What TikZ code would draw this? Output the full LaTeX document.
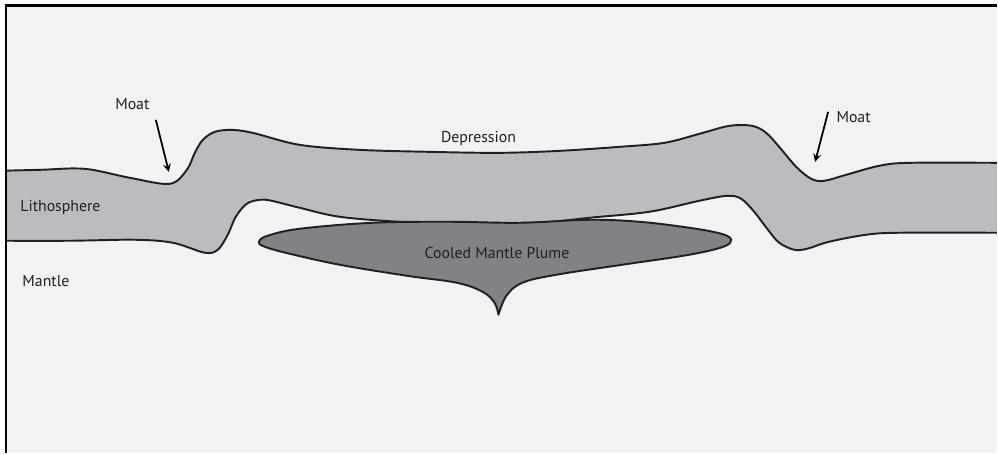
\documentclass[tikz,border=0pt]{standalone}
\usepackage{fontspec}
\setmainfont{PT Sans}
\usepackage{tikz}
\usetikzlibrary{calc}
\tikzset{>=stealth}

\definecolor{mantlegray}{HTML}{F1F2F4}
\definecolor{lithogray}{HTML}{BBBCBF}
\definecolor{plumegray}{HTML}{808285}
\definecolor{inkgray}{HTML}{231F20}

\tikzset{
  boundary/.style={draw=inkgray,line width=1.1pt,line join=round},
  lbl/.style={text=inkgray,font=\fontsize{9}{11}\selectfont,inner sep=0pt,anchor=base},
  moatarrow/.style={->,draw=black,line width=1pt}
}

\begin{document}
\begin{tikzpicture}[x=0.02cm,y=-0.02cm]
      \fill[white] (0,0) rectangle (998,453);
      \begin{scope}
      \clip (6,5) rectangle (998,453);
      \fill[mantlegray] (6,5) rectangle (998,453);
      % upper surface of the plate
      \filldraw[boundary,fill=lithogray] plot[smooth,tension=0.55] coordinates {
        (0,171) (40,170) (85,169) (130,178) (170,184) (187,170) (195,153) (203,140)
        (215,132) (232,130) (253,133) (300,145) (360,150) (430,152) (500,153)
        (560,151) (620,147) (665,143) (700,134) (730,126) (753,126) (767,133)
        (780,147) (797,167) (812,179) (825,181) (847,175) (880,166) (910,163) (1000,163)}
        -- (1100,700) -- (-100,700) -- cycle;
      % base of the plate
      \filldraw[boundary,fill=mantlegray] plot[smooth,tension=0.55] coordinates {
        (0,241) (70,241) (135,240) (173,243) (205,253) (218,250) (228,235) (236,217)
        (247,204) (260,200) (272,201) (300,208) (340,217) (400,222) (470,224)
        (540,223) (590,218) (650,212) (700,201) (728,196) (742,199) (755,212)
        (768,229) (780,243) (795,250) (808,249) (830,242) (867,235) (900,233) (1000,233)}
        -- (1100,700) -- (-100,700) -- cycle;
      % plume head and tail
      \filldraw[boundary,fill=plumegray] plot[smooth,tension=0.6] coordinates {
        (499,315) (495,303) (483,292) (457,283) (407,276) (340,265) (290,254)
        (265,247) (259,242) (268,236) (300,229) (373,223) (450,222) (520,223)
        (590,220) (640,222) (690,228) (722,234) (732,240) (724,247) (690,255)
        (623,265) (557,275) (523,283) (507,296) (499,315)} -- cycle;
      \end{scope}
      \draw[line width=1.2pt,black] (6,453) |- (998,5.5);

      \node[lbl] (moatL) at (132.5,110) {Moat};
      \node[lbl] (moatR) at (854.5,123) {Moat};
      \node[lbl] (depr) at (479,143) {Depression};
      \node[lbl] (litho) at (60.5,212) {Lithosphere};
      \node[lbl] (mantle) at (46,287) {Mantle};
      \node[lbl] (plume) at (497.5,259) {Cooled Mantle Plume};

      \coordinate (moatLfrom) at (156,120);
      \coordinate (moatLto) at (169,172);
      \coordinate (moatRfrom) at (829,112);
      \coordinate (moatRto) at (816,162);
      \draw[moatarrow] (moatLfrom) -- (moatLto);
      \draw[moatarrow] (moatRfrom) -- (moatRto);
\end{tikzpicture}
\end{document}
